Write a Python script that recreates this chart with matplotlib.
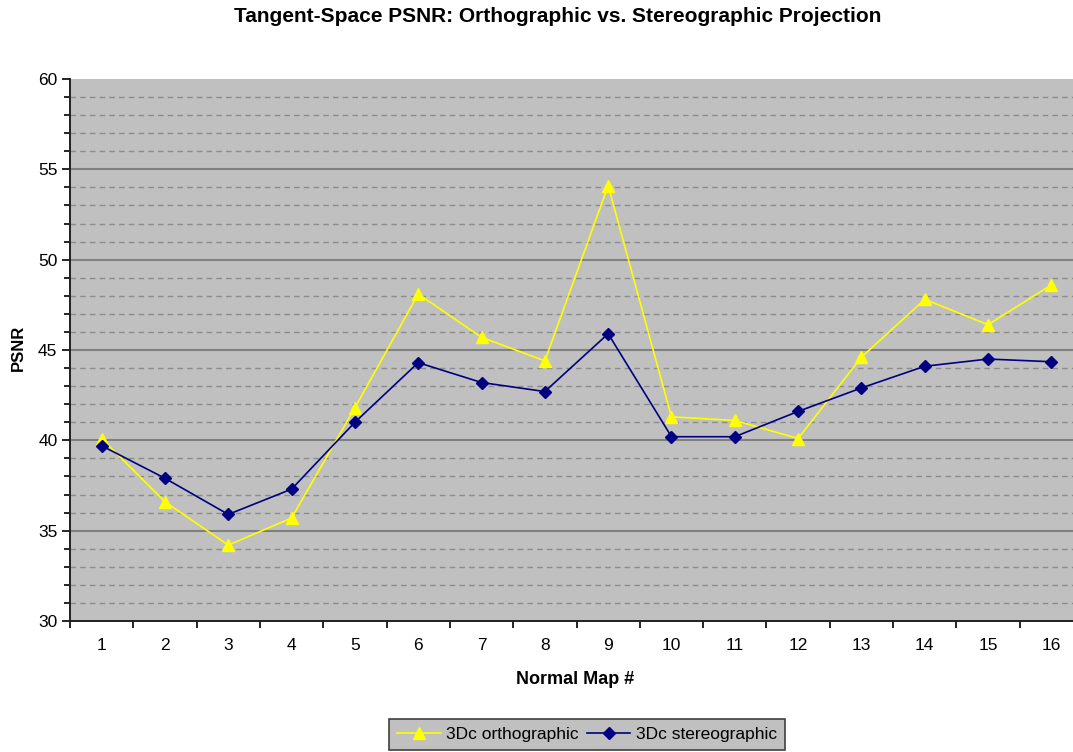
import numpy as np
import matplotlib
matplotlib.use("Agg")
import matplotlib.pyplot as plt
from matplotlib.ticker import MultipleLocator

# data
maps = list(range(1, 17))
ortho = [40.1, 36.6, 34.2, 35.7, 41.8, 48.1, 45.7, 44.4, 54.1, 41.3, 41.1, 40.1, 44.6, 47.8, 46.4, 48.6]
stereo = [39.7, 37.9, 35.9, 37.3, 41.0, 44.3, 43.2, 42.7, 45.9, 40.2, 40.2, 41.6, 42.9, 44.1, 44.5, 44.35]

plt.rcParams['font.family'] = ['Liberation Sans', 'DejaVu Sans']

W, H = 1073, 752
fig = plt.figure(figsize=(W / 100, H / 100), dpi=100)
# plot area in pixels: left 70, top 79, bottom 621, right runs past the image edge
left, right, top, bottom = 70, 1083, 79, 621
ax = fig.add_axes([left / W, 1 - bottom / H, (right - left) / W, (bottom - top) / H])
ax.set_facecolor('#c0c0c0')

ax.set_xlim(0.5, 16.5)
ax.set_ylim(30, 60)
ax.yaxis.set_major_locator(MultipleLocator(5))
ax.yaxis.set_minor_locator(MultipleLocator(1))
ax.set_xticks(np.arange(0.5, 17, 1))
ax.set_xticklabels([])
ax.set_xticks(maps, minor=True)
ax.set_xticklabels([str(m) for m in maps], minor=True)

for y in range(31, 60):
    if y % 5:
        ax.axhline(y, color='#8c8c8c', lw=1, ls=(0, (4, 3)), zorder=1)
    else:
        ax.axhline(y, color='#808080', lw=1.5, zorder=1)

ax.plot(maps, ortho, color='#ffff00', lw=1.2, marker='^', ms=8, label='3Dc orthographic', zorder=3)
ax.plot(maps, stereo, color='#000080', lw=1.2, marker='D', ms=6, label='3Dc stereographic', zorder=4)

for s in ['top', 'right']:
    ax.spines[s].set_visible(False)
for s in ['left', 'bottom']:
    ax.spines[s].set_color('#202020')
    ax.spines[s].set_linewidth(1.4)

ax.tick_params(axis='y', which='major', direction='out', length=6, width=1.2, labelsize=12.5, pad=3)
ax.tick_params(axis='y', which='minor', direction='out', length=4, width=1.2)
ax.tick_params(axis='x', which='major', direction='out', length=5, width=1.2)
ax.tick_params(axis='x', which='minor', length=0, labelsize=12.5, pad=12)

ax.set_ylabel('PSNR', fontsize=12, fontweight='bold')
ax.yaxis.set_label_coords(-(left - 18) / (right - left), (bottom - 348) / (bottom - top))
ax.set_xlabel('Normal Map #', fontsize=13, fontweight='bold')
ax.xaxis.set_label_coords((575 - left) / (right - left), -(680 - bottom) / (bottom - top))
ax.xaxis.label.set_va('center')
ax.yaxis.label.set_va('center')

fig.text(558 / W, 1 - 17 / H, 'Tangent-Space PSNR: Orthographic vs. Stereographic Projection',
         ha='center', va='center', fontsize=15, fontweight='bold')

leg = fig.legend(loc='upper center', bbox_to_anchor=(587 / W, 1 - 719 / H), ncol=2,
                 fontsize=12.5, frameon=True, fancybox=False, framealpha=1,
                 facecolor='#c0c0c0', edgecolor='#404040', handlelength=2.5,
                 columnspacing=0.5, handletextpad=0.3, borderpad=0.45, borderaxespad=0)
leg.get_frame().set_linewidth(1.2)

fig.savefig('out.png', dpi=100)
